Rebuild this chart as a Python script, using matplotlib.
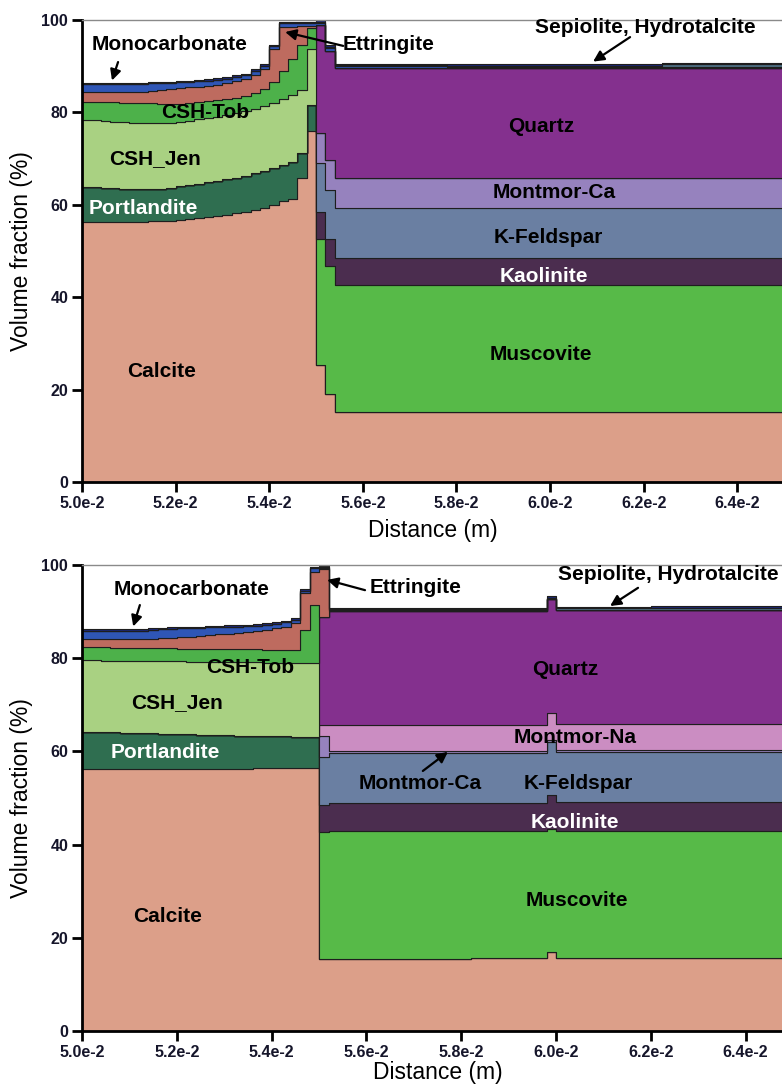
import numpy as np
import matplotlib
matplotlib.use("Agg")
import matplotlib.pyplot as plt

plt.rcParams['font.family'] = ['Liberation Sans', 'DejaVu Sans']

# 1-D grid: 0.2 mm cells from 5.0e-2 m to 6.5e-2 m, cement = first 25 cells
edges = np.round(0.050 + 0.0002 * np.arange(76), 5)
N_CEM = 25

def expand(runs):
    # runs of (value, number of cells)
    return np.concatenate([np.full(n, v, dtype=float) for v, n in runs])

# ---------------- panel a : cumulative volume fraction (%) at top of each band
# cement side, one value per cell
a_calcite = [56.3, 56.3, 56.3, 56.3, 56.3, 56.3, 56.3, 56.4, 56.5, 56.6, 56.8, 57.0, 57.2,
             57.4, 57.6, 57.9, 58.2, 58.5, 58.9, 59.4, 60.0, 60.8, 61.3, 65.7, 76.0]
a_portlandite = [63.8, 63.8, 63.7, 63.6, 63.5, 63.4, 63.4, 63.4, 63.5, 63.7, 64.0, 64.3, 64.6,
                 64.9, 65.2, 65.5, 65.9, 66.3, 66.8, 67.3, 67.9, 68.6, 69.2, 71.3, 81.6]
a_csh_jen = [78.4, 78.3, 78.2, 78.0, 77.9, 77.8, 77.7, 77.7, 77.7, 77.8, 78.0, 78.2, 78.5,
             78.8, 79.1, 79.4, 79.8, 80.2, 80.7, 81.3, 82.0, 82.9, 83.8, 84.8, 93.7]
a_csh_tob = [82.2, 82.2, 82.2, 82.2, 82.1, 82.0, 82.0, 82.0, 81.9, 81.9, 81.9, 82.0, 82.2,
             82.4, 82.6, 82.9, 83.2, 83.6, 84.2, 85.0, 86.5, 89.0, 91.5, 94.5, 98.3]
a_ettringite = [84.4, 84.4, 84.4, 84.4, 84.4, 84.4, 84.4, 84.6, 84.8, 85.0, 85.2, 85.4, 85.6,
                85.8, 86.0, 86.3, 86.7, 87.2, 88.0, 89.3, 93.8, 98.4, 98.4, 98.6, 98.6]
a_monocarb = [86.1, 86.1, 86.1, 86.1, 86.1, 86.1, 86.1, 86.3, 86.3, 86.3, 86.5, 86.6, 86.7,
              86.9, 87.1, 87.3, 87.7, 88.1, 89.0, 90.1, 94.4, 99.3, 99.3, 99.3, 99.3]
a_hydrotalc = [86.4, 86.4, 86.4, 86.4, 86.4, 86.4, 86.4, 86.6, 86.6, 86.6, 86.8, 86.9, 87.0,
               87.2, 87.4, 87.6, 88.0, 88.4, 89.3, 90.4, 94.7, 99.6, 99.6, 99.6, 99.6]
# clay side, runs of (value, cells)
a_clay_calcite = [(25.3, 1), (19.1, 1), (15.1, 48)]
a_muscovite = [(52.7, 1), (46.7, 1), (42.7, 48)]
a_kaolinite = [(58.5, 1), (52.7, 1), (48.5, 48)]
a_kfeldspar = [(69.1, 1), (63.3, 1), (59.4, 48)]
a_montmor_ca = [(75.6, 1), (69.8, 1), (65.9, 48)]
a_montmor_na = [(75.6, 1), (69.8, 1), (65.9, 48)]
a_quartz = [(99.0, 1), (93.4, 1), (89.7, 48)]
a_clay_ettringite = [(99.0, 1), (93.4, 1), (89.7, 48)]
a_clay_monocarb = [(99.4, 1), (93.9, 1), (90.0, 12), (89.8, 36)]
a_sepiolite = [(99.6, 1), (94.2, 1), (90.2, 12), (90.1, 23), (90.4, 13)]
a_clay_hydrotalc = [(99.9, 1), (94.5, 1), (90.5, 12), (90.4, 23), (90.8, 13)]

# ---------------- panel b
b_calcite = [56.2, 56.2, 56.2, 56.2, 56.2, 56.2, 56.2, 56.2, 56.2, 56.2, 56.2, 56.3, 56.3,
             56.3, 56.3, 56.3, 56.3, 56.3, 56.4, 56.4, 56.4, 56.4, 56.4, 56.5, 56.5]
b_portlandite = [64.2, 64.2, 64.1, 64.1, 64.0, 64.0, 63.9, 63.9, 63.8, 63.8, 63.7, 63.7, 63.6,
                 63.6, 63.5, 63.5, 63.4, 63.4, 63.3, 63.3, 63.2, 63.2, 63.1, 63.0, 63.0]
b_csh_jen = [79.6, 79.6, 79.5, 79.5, 79.5, 79.4, 79.4, 79.4, 79.3, 79.3, 79.3, 79.2, 79.2,
             79.2, 79.2, 79.1, 79.1, 79.1, 79.1, 79.0, 79.0, 79.0, 79.0, 79.0, 79.0]
b_csh_tob = [82.3, 82.3, 82.3, 82.2, 82.2, 82.2, 82.2, 82.1, 82.1, 82.1, 82.0, 82.0, 82.0,
             82.0, 81.9, 81.9, 81.9, 81.9, 81.9, 81.8, 81.8, 81.8, 81.8, 86.1, 91.4]
b_ettringite = [84.2, 84.2, 84.2, 84.2, 84.2, 84.2, 84.2, 84.2, 84.3, 84.4, 84.5, 84.6, 84.8,
                84.9, 85.1, 85.2, 85.4, 85.6, 85.8, 86.1, 86.4, 86.8, 87.5, 93.9, 98.6]
b_monocarb = [85.9, 85.9, 85.9, 85.9, 85.9, 85.9, 85.9, 86.1, 86.2, 86.3, 86.4, 86.5, 86.5,
              86.6, 86.7, 86.8, 86.8, 86.9, 87.0, 87.2, 87.4, 87.7, 88.3, 94.5, 99.3]
b_hydrotalc = [86.2, 86.2, 86.2, 86.2, 86.2, 86.2, 86.2, 86.4, 86.5, 86.6, 86.7, 86.8, 86.8,
               86.9, 87.0, 87.1, 87.1, 87.2, 87.3, 87.5, 87.7, 88.0, 88.6, 94.8, 99.6]
b_clay_calcite = [(15.4, 1), (15.5, 15), (15.7, 8), (17.0, 1), (15.7, 25)]
b_muscovite = [(42.8, 1), (42.9, 23), (43.4, 1), (43.0, 25)]
b_kaolinite = [(48.5, 1), (48.9, 23), (50.6, 1), (49.1, 25)]
b_kfeldspar = [(58.9, 1), (59.6, 23), (62.0, 1), (59.9, 25)]
b_montmor_ca = [(63.2, 1), (60.0, 23), (62.4, 1), (60.3, 25)]
b_montmor_na = [(65.6, 1), (65.6, 23), (68.2, 1), (65.9, 25)]
b_quartz = [(88.9, 1), (90.1, 23), (92.6, 1), (90.3, 25)]
b_clay_ettringite = [(99.2, 1), (90.1, 23), (92.6, 1), (90.3, 25)]
b_clay_monocarb = [(99.4, 1), (90.3, 23), (92.7, 1), (90.4, 25)]
b_sepiolite = [(99.5, 1), (90.5, 23), (93.0, 1), (90.7, 10), (90.8, 15)]
b_clay_hydrotalc = [(99.8, 1), (90.8, 23), (93.4, 1), (91.0, 10), (91.2, 15)]

# stacking order, bottom to top
LAYERS = ['calcite', 'portlandite', 'muscovite', 'kaolinite', 'kfeldspar', 'montmor_ca',
          'montmor_na', 'quartz', 'csh_jen', 'csh_tob', 'ettringite', 'monocarb',
          'sepiolite', 'hydrotalc']
COL = {
    'calcite': '#DC9F89', 'portlandite': '#2F6E50', 'csh_jen': '#A9D182',
    'csh_tob': '#4DB14A', 'ettringite': '#BE6B5F', 'monocarb': '#2F56B6',
    'hydrotalc': '#1B2672', 'sepiolite': '#4E6F82', 'muscovite': '#57BA48',
    'kaolinite': '#4B2D4F', 'kfeldspar': '#6A7FA2', 'montmor_ca': '#9682BE',
    'montmor_na': '#CB8DC2', 'quartz': '#84308E',
}

xtick_vals = [0.050, 0.052, 0.054, 0.056, 0.058, 0.060, 0.062, 0.064]
xtick_labels = ['5.0e-2', '5.2e-2', '5.4e-2', '5.6e-2', '5.8e-2', '6.0e-2', '6.2e-2', '6.4e-2']
ytick_vals = [0, 20, 40, 60, 80, 100]


def full_tops(cem, clay):
    # cem: cement-side tops (calcite, portlandite, csh_jen, csh_tob, ettringite, monocarb, hydrotalc)
    # clay: clay-side runs (calcite, muscovite, kaolinite, kfeldspar, montmor_ca, montmor_na,
    #       quartz, ettringite, monocarb, sepiolite, hydrotalc)
    cc, cp, cj, ct, ce, cm, ch = [np.asarray(v, float) for v in cem]
    k = [expand(r) for r in clay]
    cement = [cc, cp, cp, cp, cp, cp, cp, cp, cj, ct, ce, cm, cm, ch]
    claysd = [k[0], k[0], k[1], k[2], k[3], k[4], k[5], k[6], k[6], k[6], k[7], k[8], k[9], k[10]]
    return [np.concatenate([a, b]) for a, b in zip(cement, claysd)]


def draw_stack(ax, x, tops):
    lower = np.zeros(len(x) - 1)
    for name, top in zip(LAYERS, tops):
        ax.fill_between(x, np.append(lower, lower[-1]), np.append(top, top[-1]),
                        step='post', facecolor=COL[name], edgecolor='#1e1e1e', linewidth=0.8)
        lower = top


def style_axes(ax, xpad):
    ax.set_xlim(0.050, 0.065)
    ax.set_ylim(0, 100)
    ax.spines['right'].set_visible(False)
    ax.spines['top'].set_color('#8a8a8a')
    ax.spines['top'].set_linewidth(1.0)
    for s in ('left', 'bottom'):
        ax.spines[s].set_linewidth(2.0)
        ax.spines[s].set_color('black')
    ax.set_xticks(xtick_vals)
    ax.set_xticklabels(xtick_labels)
    ax.set_yticks(ytick_vals)
    ax.tick_params(direction='out', length=7, width=2, pad=3)
    for lab in ax.get_xticklabels() + ax.get_yticklabels():
        lab.set_family(['Liberation Sans Narrow', 'Liberation Sans', 'DejaVu Sans'])
        lab.set_fontweight('bold')
        lab.set_fontsize(11.5)
        lab.set_color('#15152a')
    ax.set_xlabel('Distance (m)', fontsize=16.5, labelpad=xpad)
    ax.set_ylabel('Volume fraction (%)', fontsize=16.5, labelpad=6)


def label(ax, s, x, y, color='black'):
    ax.text(x, y, s, ha='center', va='center', fontsize=15,
            fontweight='bold', color=color)


def arrow(ax, tail, head):
    ax.annotate('', xy=head, xytext=tail,
                arrowprops=dict(arrowstyle='-|>', color='black', lw=1.6,
                                mutation_scale=16, shrinkA=0, shrinkB=0))


fig = plt.figure(figsize=(7.82, 10.88), dpi=100)
fig.patch.set_facecolor('white')

# ---------------- top panel
ax1 = fig.add_axes([0.1049, 0.5570, 0.8977, 0.4246])
draw_stack(ax1, edges, full_tops(
    [a_calcite, a_portlandite, a_csh_jen, a_csh_tob, a_ettringite, a_monocarb, a_hydrotalc],
    [a_clay_calcite, a_muscovite, a_kaolinite, a_kfeldspar, a_montmor_ca, a_montmor_na,
     a_quartz, a_clay_ettringite, a_clay_monocarb, a_sepiolite, a_clay_hydrotalc]))
style_axes(ax1, 6)

label(ax1, 'Monocarbonate', 0.05188, 94.6)
arrow(ax1, (0.05077, 90.9), (0.05064, 86.9))
label(ax1, 'Ettringite', 0.05656, 94.8)
arrow(ax1, (0.05558, 94.4), (0.05434, 97.4))
label(ax1, 'Sepiolite, Hydrotalcite', 0.06203, 98.3)
arrow(ax1, (0.06171, 96.3), (0.06092, 91.0))
label(ax1, 'CSH-Tob', 0.05263, 80.0)
label(ax1, 'CSH_Jen', 0.05156, 70.1)
label(ax1, 'Portlandite', 0.05130, 59.2, color='white')
label(ax1, 'Calcite', 0.05169, 23.9)
label(ax1, 'Quartz', 0.05981, 77.0)
label(ax1, 'Montmor-Ca', 0.06009, 62.7)
label(ax1, 'K-Feldspar', 0.05996, 52.9)
label(ax1, 'Kaolinite', 0.05987, 44.5, color='white')
label(ax1, 'Muscovite', 0.05981, 27.5)

# ---------------- bottom panel
ax2 = fig.add_axes([0.1049, 0.0524, 0.9092, 0.4283])
draw_stack(ax2, edges, full_tops(
    [b_calcite, b_portlandite, b_csh_jen, b_csh_tob, b_ettringite, b_monocarb, b_hydrotalc],
    [b_clay_calcite, b_muscovite, b_kaolinite, b_kfeldspar, b_montmor_ca, b_montmor_na,
     b_quartz, b_clay_ettringite, b_clay_monocarb, b_sepiolite, b_clay_hydrotalc]))
style_axes(ax2, 1)

label(ax2, 'Monocarbonate', 0.05232, 94.8)
arrow(ax2, (0.05122, 91.4), (0.05108, 86.8))
label(ax2, 'Ettringite', 0.05703, 95.1)
arrow(ax2, (0.05597, 94.6), (0.05517, 96.8))
label(ax2, 'Sepiolite, Hydrotalcite', 0.06236, 97.9)
arrow(ax2, (0.06173, 95.1), (0.06114, 91.2))
label(ax2, 'CSH-Tob', 0.05354, 78.1)
label(ax2, 'CSH_Jen', 0.05200, 70.4)
label(ax2, 'Portlandite', 0.05175, 59.7, color='white')
label(ax2, 'Calcite', 0.05181, 24.5)
label(ax2, 'Quartz', 0.06019, 77.5)
label(ax2, 'Montmor-Na', 0.06040, 62.9)
label(ax2, 'Montmor-Ca', 0.05713, 53.2)
arrow(ax2, (0.05719, 55.8), (0.05772, 59.9))
label(ax2, 'K-Feldspar', 0.06046, 53.2)
label(ax2, 'Kaolinite', 0.06040, 44.8, color='white')
label(ax2, 'Muscovite', 0.06044, 28.1)

fig.savefig('out.png', dpi=100, facecolor='white')
